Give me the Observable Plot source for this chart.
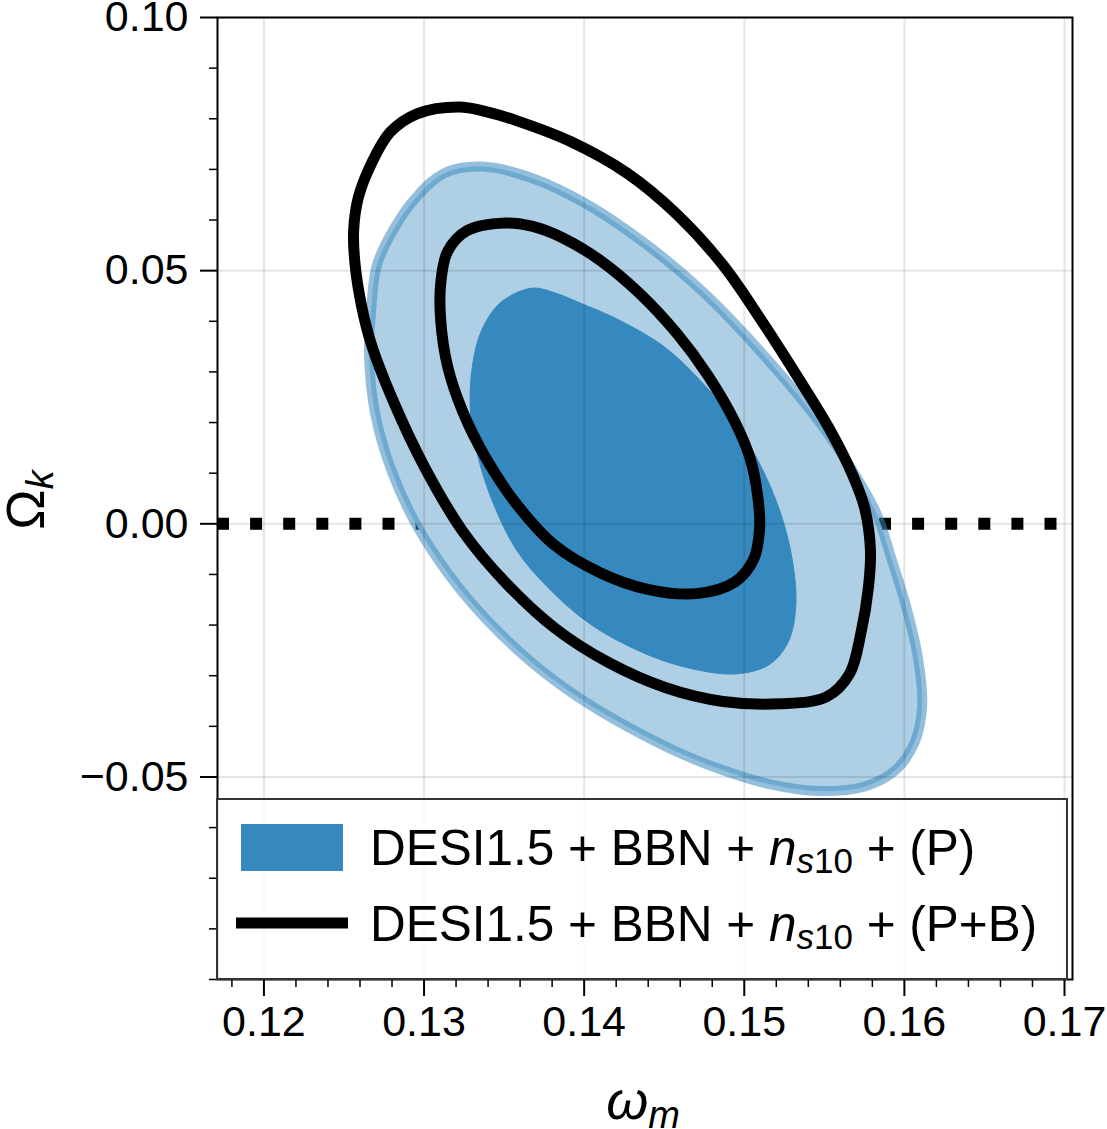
<!DOCTYPE html>
<html>
<head>
<meta charset="utf-8">
<script src="https://cdn.jsdelivr.net/npm/d3@7"></script>
<script src="https://cdn.jsdelivr.net/npm/@observablehq/plot@0.6"></script>
<style>
  html, body { margin: 0; padding: 0; background: #fff; }
  svg { display: block; }
</style>
</head>
<body>
<div id="chart"></div>
<script>
// ---- Data (ω_m, Ω_k) ----
// DESI1.5 + BBN + n_s10 + (P): 2σ (outer) contour
const pOuter = [
  [0.12705, 0.05106], [0.12669, 0.04199], [0.12657, 0.03293], [0.12693, 0.02204],
  [0.12789, 0.01116], [0.12944, 0.00028], [0.13147, -0.00970], [0.13386, -0.01876],
  [0.13673, -0.02738], [0.13960, -0.03419], [0.14270, -0.04008], [0.14582, -0.04507],
  [0.14868, -0.04869], [0.15155, -0.05141], [0.15466, -0.05278], [0.15753, -0.05187],
  [0.15944, -0.04869], [0.16063, -0.04326], [0.16111, -0.03599], [0.16087, -0.02692],
  [0.16016, -0.01695], [0.15920, -0.00697], [0.15825, 0.00209], [0.15681, 0.01025],
  [0.15466, 0.02023], [0.15107, 0.03383], [0.14749, 0.04563], [0.14390, 0.05515],
  [0.14032, 0.06285], [0.13673, 0.06830], [0.13362, 0.07055], [0.13123, 0.06921],
  [0.12956, 0.06467], [0.12813, 0.05833]
];
// DESI1.5 + BBN + n_s10 + (P): 1σ (inner) contour
const pInner = [
  [0.13673, 0.04653], [0.13482, 0.04381], [0.13362, 0.03838], [0.13302, 0.03111],
  [0.13290, 0.02204], [0.13339, 0.01298], [0.13434, 0.00391], [0.13577, -0.00516],
  [0.13769, -0.01242], [0.14032, -0.01967], [0.14342, -0.02510], [0.14629, -0.02828],
  [0.14940, -0.02965], [0.15155, -0.02783], [0.15275, -0.02331], [0.15322, -0.01604],
  [0.15299, -0.00697], [0.15227, 0.00209], [0.15107, 0.01116], [0.14940, 0.02023],
  [0.14749, 0.02749], [0.14510, 0.03474], [0.14223, 0.04017], [0.13960, 0.04381],
  [0.13816, 0.04563]
];
// DESI1.5 + BBN + n_s10 + (P+B): 2σ (outer) contour
const pbOuter = [
  [0.13219, 0.08234], [0.12956, 0.08098], [0.12789, 0.07737], [0.12669, 0.07101],
  [0.12590, 0.06450], [0.12560, 0.05780], [0.12570, 0.05100], [0.12610, 0.04300],
  [0.12669, 0.03565],
  [0.12813, 0.02386], [0.13004, 0.01116], [0.13243, -0.00154], [0.13506, -0.01151],
  [0.13816, -0.02058], [0.14151, -0.02738], [0.14510, -0.03237], [0.14868, -0.03508],
  [0.15227, -0.03553], [0.15513, -0.03419], [0.15657, -0.02965], [0.15729, -0.02149],
  [0.15776, -0.01242], [0.15788, -0.00516], [0.15753, 0.00300], [0.15681, 0.00934],
  [0.15538, 0.01841], [0.15346, 0.02838], [0.15107, 0.04017], [0.14868, 0.05106],
  [0.14582, 0.06103], [0.14270, 0.06921], [0.13912, 0.07555], [0.13577, 0.07964],
  [0.13386, 0.08143]
];
// DESI1.5 + BBN + n_s10 + (P+B): 1σ (inner) contour
const pbInner = [
  [0.13506, 0.05941], [0.13267, 0.05787], [0.13147, 0.05378], [0.13104, 0.04744],
  [0.13104, 0.04017], [0.13147, 0.03111], [0.13243, 0.02204], [0.13386, 0.01298],
  [0.13577, 0.00391], [0.13816, -0.00425], [0.14103, -0.00970], [0.14390, -0.01288],
  [0.14701, -0.01379], [0.14940, -0.01151], [0.15059, -0.00697], [0.15096, -0.00063],
  [0.15083, 0.00573], [0.15036, 0.01298], [0.14940, 0.02023], [0.14773, 0.02929],
  [0.14582, 0.03747], [0.14342, 0.04563], [0.14103, 0.05197], [0.13864, 0.05651],
  [0.13673, 0.05878]
];
const refLine = [0];

// ---- Axes ----
const xDomain = [0.1171, 0.1705];
const yDomain = [-0.09, 0.10];
const xTicks = [0.12, 0.13, 0.14, 0.15, 0.16, 0.17];
const yTicks = [-0.05, 0.00, 0.05, 0.10];
const xMinor = [0.118, 0.122, 0.124, 0.126, 0.128, 0.132, 0.134, 0.136, 0.138,
                0.142, 0.144, 0.146, 0.148, 0.152, 0.154, 0.156, 0.158,
                0.162, 0.164, 0.166, 0.168];
const yMinor = [-0.09, -0.08, -0.07, -0.06, -0.04, -0.03, -0.02, -0.01,
                0.01, 0.02, 0.03, 0.04, 0.06, 0.07, 0.08, 0.09];
const legendLabels = ["DESI1.5 + BBN + ", "n", "s", "10", " + (P)", " + (P+B)"];

const FONT = "'Liberation Sans', Arial, Helvetica, sans-serif";
const darkBlue = "#3689be";
const lightBlue = "#aecfe4";
const curve = "catmull-rom-closed";

const chart = Plot.plot({
  width: 1107,
  height: 1129,
  marginLeft: 217,
  marginRight: 35,
  marginTop: 17,
  marginBottom: 150,
  style: { fontSize: "43px", fontFamily: FONT, background: "#fff", color: "#000" },
  x: { domain: xDomain, label: null },
  y: { domain: yDomain, label: null },
  marks: [
    Plot.ruleY(refLine, { stroke: "#000", strokeWidth: 12, strokeDasharray: "12,21.1" }),
    Plot.line(pOuter, { curve, fill: lightBlue, stroke: "none" }),
    Plot.line(pOuter, { curve, stroke: "#3a8bc0", strokeOpacity: 0.55, strokeWidth: 10 }),
    Plot.line(pInner, { curve, fill: darkBlue, stroke: darkBlue, strokeWidth: 1 }),
    Plot.line(pbOuter, { curve, stroke: "#000", strokeWidth: 11 }),
    Plot.line(pbInner, { curve, stroke: "#000", strokeWidth: 11 }),
    Plot.gridX(xTicks, { stroke: "#000", strokeOpacity: 0.1, strokeWidth: 2 }),
    Plot.gridY(yTicks, { stroke: "#000", strokeOpacity: 0.1, strokeWidth: 2 }),
    Plot.frame({ stroke: "#000", strokeWidth: 2 }),
    Plot.axisX(xTicks, { anchor: "bottom", tickSize: 17, tickPadding: 9, strokeWidth: 2,
                         tickFormat: d3.format(".2f"), label: null }),
    Plot.axisX(xMinor, { anchor: "bottom", tickSize: 8, strokeWidth: 1.5,
                         tickFormat: () => "", label: null }),
    Plot.axisY(yTicks, { anchor: "left", tickSize: 17, tickPadding: 12, strokeWidth: 2,
                         tickFormat: d3.format(".2f"), label: null }),
    Plot.axisY(yMinor, { anchor: "left", tickSize: 8, strokeWidth: 1.5,
                         tickFormat: () => "", label: null })
  ]
});

document.getElementById("chart").appendChild(chart);

// ---- Legend and axis titles (overlay) ----
const svg = d3.select(chart);
const lg = svg.append("g").attr("font-family", FONT).attr("text-anchor", "start");
lg.append("rect").attr("x", 217).attr("y", 799).attr("width", 850).attr("height", 180)
  .attr("fill", "#fff").attr("fill-opacity", 0.8).attr("stroke", "#333").attr("stroke-width", 2);
lg.append("rect").attr("x", 241).attr("y", 824).attr("width", 102).attr("height", 47)
  .attr("fill", darkBlue);
lg.append("line").attr("x1", 236).attr("x2", 348).attr("y1", 923).attr("y2", 923)
  .attr("stroke", "#000").attr("stroke-width", 11);

function legendText(y, tail) {
  const t = lg.append("text").attr("x", 370).attr("y", y).attr("font-size", 49.5)
    .attr("fill", "#000").attr("text-anchor", "start");
  t.append("tspan").text(legendLabels[0]);
  t.append("tspan").attr("font-style", "italic").text(legendLabels[1]);
  t.append("tspan").attr("font-size", 35).attr("dy", 8).attr("font-style", "italic").text(legendLabels[2]);
  t.append("tspan").attr("font-size", 35).text(legendLabels[3]);
  t.append("tspan").attr("dy", -8).text(tail);
}
legendText(865, legendLabels[4]);
legendText(941, legendLabels[5]);

// y title: Ω_k
const yt = svg.append("text").attr("transform", "translate(44,500) rotate(-90)")
  .attr("text-anchor", "middle").attr("font-family", FONT).attr("font-size", 54).attr("fill", "#000");
yt.append("tspan").text("Ω");
yt.append("tspan").attr("font-size", 38).attr("font-style", "italic").attr("dy", 9).text("k");

// x title: ω_m
const xt = svg.append("text").attr("x", 643).attr("y", 1119)
  .attr("text-anchor", "middle").attr("font-family", FONT).attr("font-size", 54).attr("fill", "#000");
xt.append("tspan").attr("font-style", "italic").text("ω");
xt.append("tspan").attr("font-size", 38).attr("font-style", "italic").attr("dy", 9).text("m");
</script>
</body>
</html>
